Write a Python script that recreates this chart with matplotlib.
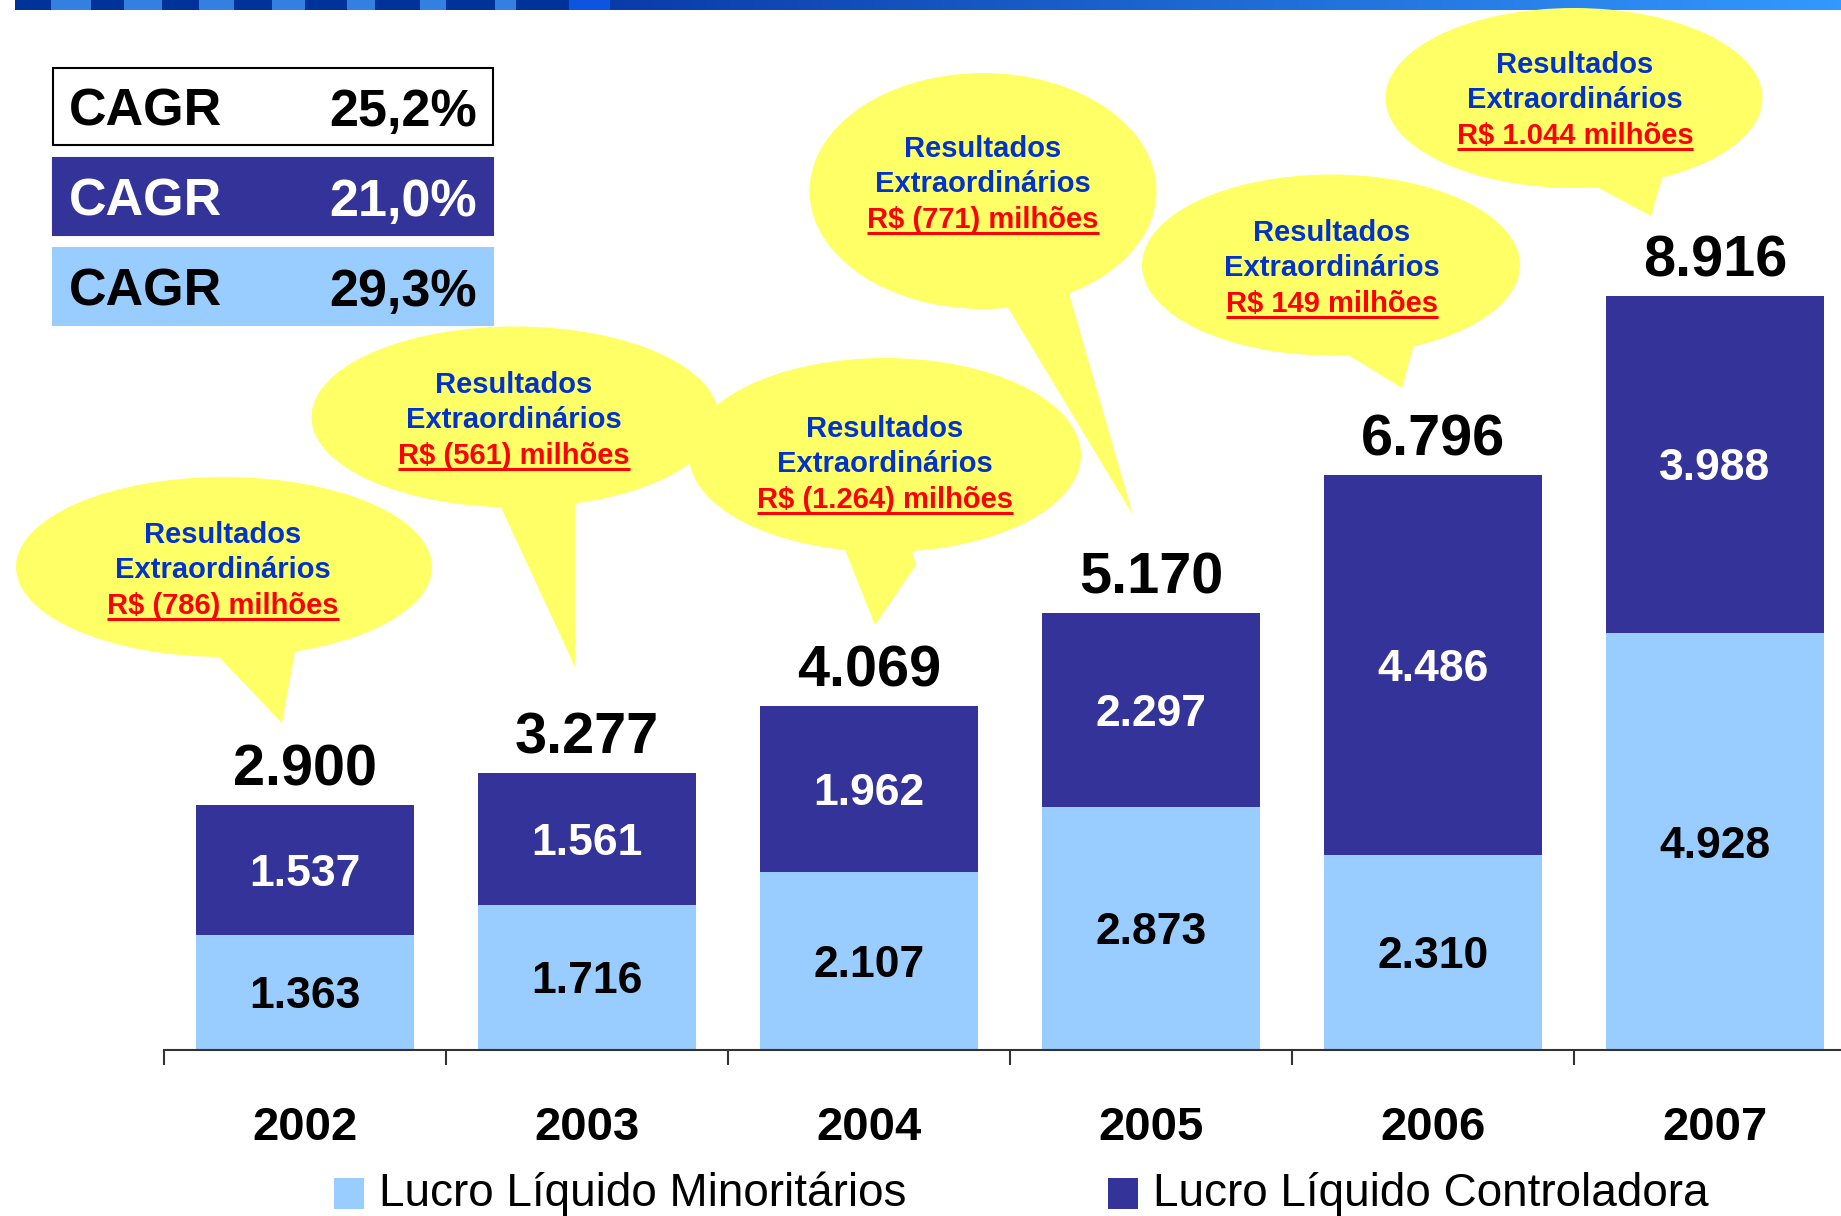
import matplotlib
matplotlib.use("Agg")
import matplotlib.pyplot as plt
import numpy as np
from matplotlib.patches import Ellipse, Polygon, Rectangle
from matplotlib.colors import LinearSegmentedColormap

plt.rcParams['font.family'] = ['Liberation Sans', 'DejaVu Sans']

# dados
anos = ['2002', '2003', '2004', '2005', '2006', '2007']
minoritarios = [1363, 1716, 2107, 2873, 2310, 4928]
controladora = [1537, 1561, 1962, 2297, 4486, 3988]
extraordinarios = ['R$ (786) milhões', 'R$ (561) milhões', 'R$ (1.264) milhões',
                   'R$ (771) milhões', 'R$ 149 milhões', 'R$ 1.044 milhões']
cagr_valores = ['25,2%', '21,0%', '29,3%']

CLARO = '#99CCFF'
ESCURO = '#333399'
AMARELO = '#FFFF66'
AZUL_TXT = '#0033CC'
VERMELHO = '#FF0000'

W, H = 1841, 1216


def fmt(v):
    return f"{v:,}".replace(',', '.')


fig = plt.figure(figsize=(W / 100, H / 100), dpi=100)

# eixo principal (barras)
base_px = 1050
ax = fig.add_axes([164 / W, (H - base_px) / H, 6 * 282 / W, base_px / H])
x = np.arange(len(anos))
totais = [m + c for m, c in zip(minoritarios, controladora)]
ax.bar(x, minoritarios, width=0.77, color=CLARO, zorder=2)
ax.bar(x, controladora, width=0.77, bottom=minoritarios, color=ESCURO, zorder=2)
ax.set_xlim(-0.5, 5.5)
ax.set_ylim(0, base_px / 0.0846)

for i in range(len(anos)):
    m, c = minoritarios[i], controladora[i]
    ax.text(i, m / 2, fmt(m), ha='center', va='center_baseline',
            fontsize=32, fontweight='bold', color='black', zorder=3)
    ax.text(i, m + c / 2, fmt(c), ha='center', va='center_baseline',
            fontsize=32, fontweight='bold', color='white', zorder=3)
    ax.annotate(fmt(totais[i]), (i, totais[i]), xytext=(0, 14),
                textcoords='offset points', ha='center', va='baseline',
                fontsize=41.5, fontweight='bold', color='black')

for s in ['left', 'right', 'top']:
    ax.spines[s].set_visible(False)
ax.spines['bottom'].set_linewidth(1.5)
ax.spines['bottom'].set_color('#333333')
ax.set_yticks([])
ax.set_xticks(x, anos)
ax.set_xticks(np.arange(-0.5, 6, 1), minor=True)
ax.tick_params(axis='x', which='major', length=0, pad=40, labelsize=34)
ax.tick_params(axis='x', which='minor', length=11, width=1.5, color='#333333')
for lbl in ax.get_xticklabels():
    lbl.set_fontweight('bold')
ax.patch.set_alpha(0)

# camada de enfeites em pixels
ov = fig.add_axes([0, 0, 1, 1])
ov.set_xlim(0, W)
ov.set_ylim(H, 0)
ov.axis('off')
ov.set_zorder(5)

# faixa superior
blocos = [(15, 51, 'd'), (51, 91, 'l'), (91, 124, 'd'), (124, 162, 'l'), (162, 199, 'd'),
          (199, 234, 'l'), (234, 272, 'd'), (272, 305, 'l'), (305, 347, 'd'), (347, 375, 'l'),
          (375, 420, 'd'), (420, 446, 'l'), (446, 495, 'd'), (495, 516, 'l'), (516, 569, 'd'),
          (569, 610, 'b')]
cores_bloco = {'d': '#00339A', 'l': '#3380E0', 'b': '#0D55E0'}
for x0, x1, k in blocos:
    ov.add_patch(Rectangle((x0, 0), x1 - x0, 10, color=cores_bloco[k], lw=0))
grad = LinearSegmentedColormap.from_list('g', ['#0A3CA8', '#3399FF'])
ov.imshow(np.linspace(0, 1, 256)[None, :], cmap=grad, aspect='auto',
          extent=[610, W, 10, 0])
ov.set_xlim(0, W)
ov.set_ylim(H, 0)

# caixas CAGR
caixas = [(68, 'white', 'black', 'black'), (158, ESCURO, 'white', ESCURO), (248, CLARO, 'black', CLARO)]
for (y0, fc, tc, ec), val in zip(caixas, cagr_valores):
    ov.add_patch(Rectangle((53, y0), 440, 77, facecolor=fc, edgecolor=ec, lw=1.5))
    ov.text(69, y0 + 58, 'CAGR', ha='left', va='baseline', fontsize=37.5,
            fontweight='bold', color=tc)
    ov.text(477, y0 + 58, val, ha='right', va='baseline', fontsize=37.5,
            fontweight='bold', color=tc)

# balões
bal_cx = [224, 515, 885, 983, 1331, 1574]
bal_cy = [567, 417, 455, 191, 265, 98]
bal_w = [416, 407, 392, 347, 378, 377]
bal_h = [180, 181, 194, 236, 181, 180]
caudas = [
    [(217, 655), (282, 723), (295, 651)],
    [(499, 503), (575, 667), (575, 497)],
    [(843, 545), (875, 625), (916, 565)],
    [(1007, 306), (1133, 515), (1068, 290)],
    [(1345, 353), (1402, 388), (1414, 344)],
    [(1595, 186), (1651, 216), (1663, 175)],
]
txt_x = [223, 514, 885, 983, 1332, 1575]
txt_y = [543, 393, 437, 157, 241, 73]

for i in range(len(anos)):
    ov.add_patch(Ellipse((bal_cx[i], bal_cy[i]), bal_w[i], bal_h[i], color=AMARELO, lw=0))
    pts = caudas[i] + [(bal_cx[i], bal_cy[i])]
    ov.add_patch(Polygon(pts, closed=True, color=AMARELO, lw=0))

vermelhos = []
for i in range(len(anos)):
    ov.text(txt_x[i], txt_y[i], 'Resultados', ha='center', va='baseline',
            fontsize=21, fontweight='bold', color=AZUL_TXT)
    ov.text(txt_x[i], txt_y[i] + 35.5, 'Extraordinários', ha='center', va='baseline',
            fontsize=21, fontweight='bold', color=AZUL_TXT)
    t = ov.text(txt_x[i], txt_y[i] + 71, extraordinarios[i], ha='center', va='baseline',
                fontsize=21, fontweight='bold', color=VERMELHO)
    vermelhos.append((t, txt_y[i] + 71))

# legenda
leg = [(334, CLARO, 'Lucro Líquido Minoritários'), (1108, ESCURO, 'Lucro Líquido Controladora')]
for lx, cor, nome in leg:
    ov.add_patch(Rectangle((lx, 1178), 30, 31, color=cor, lw=0))
    ov.text(lx + 45, 1206, nome, ha='left', va='baseline', fontsize=33, color='black')

# sublinhado dos valores
fig.canvas.draw()
r = fig.canvas.get_renderer()
for t, yb in vermelhos:
    bb = t.get_window_extent(r)
    ov.plot([bb.x0, bb.x1], [yb + 5, yb + 5], color=VERMELHO, lw=2.2, solid_capstyle='butt')

fig.savefig('out.png', dpi=100)
